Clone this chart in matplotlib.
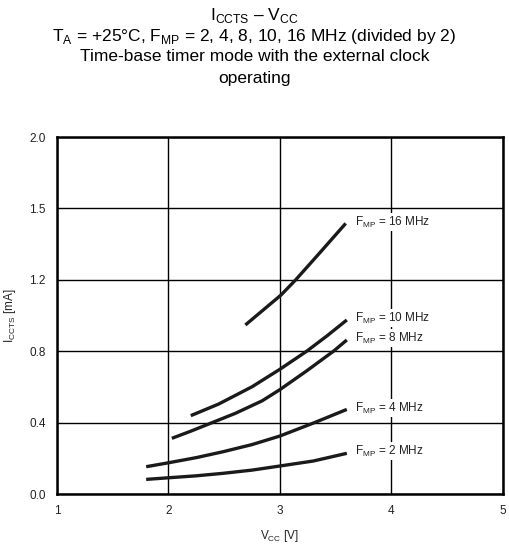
import matplotlib.pyplot as plt
import matplotlib.ticker as ticker

plt.rcParams['font.family'] = ['Liberation Sans', 'DejaVu Sans']
plt.rcParams['mathtext.fontset'] = 'custom'
plt.rcParams['mathtext.rm'] = 'Liberation Sans'

# curves (Vcc [V], Iccts [mA] on the axis scale)
vcc_16 = [2.69, 2.85, 3.01, 3.14, 3.34, 3.59]
icc_16 = [0.947, 1.031, 1.115, 1.199, 1.339, 1.516]
vcc_10 = [2.20, 2.45, 2.75, 3.00, 3.24, 3.42, 3.60]
icc_10 = [0.439, 0.504, 0.601, 0.699, 0.800, 0.885, 0.975]
vcc_8 = [2.03, 2.20, 2.36, 2.60, 2.84, 3.00, 3.24, 3.48, 3.60]
icc_8 = [0.312, 0.352, 0.392, 0.452, 0.522, 0.585, 0.690, 0.800, 0.863]
vcc_4 = [1.80, 2.00, 2.25, 2.49, 2.75, 3.00, 3.31, 3.60]
icc_4 = [0.153, 0.175, 0.204, 0.237, 0.277, 0.325, 0.400, 0.474]
vcc_2 = [1.80, 2.00, 2.25, 2.49, 2.75, 3.00, 3.30, 3.60]
icc_2 = [0.082, 0.091, 0.102, 0.116, 0.134, 0.157, 0.185, 0.228]

curve_labels = ['16', '10', '8', '4', '2']
label_y = [1.524, 0.986, 0.874, 0.480, 0.240]

x_ticks = [1, 2, 3, 4, 5]
y_ticks = [0.0, 0.4, 0.8, 1.2, 1.6, 2.0]
y_ticklabels = ['0.0', '0.4', '0.8', '1.2', '1.5', '2.0']

fig = plt.figure(figsize=(5.09, 5.48), dpi=100)
ax = fig.add_axes([0.112, 0.0985, 0.876, 0.6515])

for xs, ys in [(vcc_16, icc_16), (vcc_10, icc_10), (vcc_8, icc_8),
               (vcc_4, icc_4), (vcc_2, icc_2)]:
    ax.plot(xs, ys, color='#1a1a1a', lw=2.4, solid_capstyle='butt',
            solid_joinstyle='round', zorder=4)

for lab, y in zip(curve_labels, label_y):
    ax.text(3.67, y, r'F$_{\rm MP}$ = ' + lab + ' MHz', fontsize=8.5,
            va='center', ha='left', zorder=5, color='#222222',
            bbox=dict(facecolor='white', edgecolor='none', pad=1))

ax.set_xlim(1, 5)
ax.set_ylim(0, 2.0)
ax.xaxis.set_major_locator(ticker.FixedLocator(x_ticks))
ax.set_yticks(y_ticks)
ax.set_yticklabels(y_ticklabels)
ax.grid(True, color='black', lw=1.0)
ax.set_axisbelow(True)
ax.tick_params(length=0, labelsize=8.5, pad=8, colors='#222222')
for s in ax.spines.values():
    s.set_linewidth(1.8)

ax.set_xlabel(r'V$_{\rm CC}$ [V]', fontsize=8.5, labelpad=8, color='#222222')
ax.set_ylabel(r'I$_{\rm CCTS}$ [mA]', fontsize=8.5, labelpad=8, color='#222222')

fig.text(0.5, 0.972, r'I$_{\rm CCTS}$ – V$_{\rm CC}$', ha='center', va='center', fontsize=12.5)
fig.text(0.5, 0.934, r'T$_{\rm A}$ = +25°C, F$_{\rm MP}$ = 2, 4, 8, 10, 16 MHz (divided by 2)',
         ha='center', va='center', fontsize=12.5)
fig.text(0.5, 0.896, 'Time-base timer mode with the external clock',
         ha='center', va='center', fontsize=12.5)
fig.text(0.5, 0.856, 'operating', ha='center', va='center', fontsize=12.5)

plt.savefig('out.png', dpi=100)
